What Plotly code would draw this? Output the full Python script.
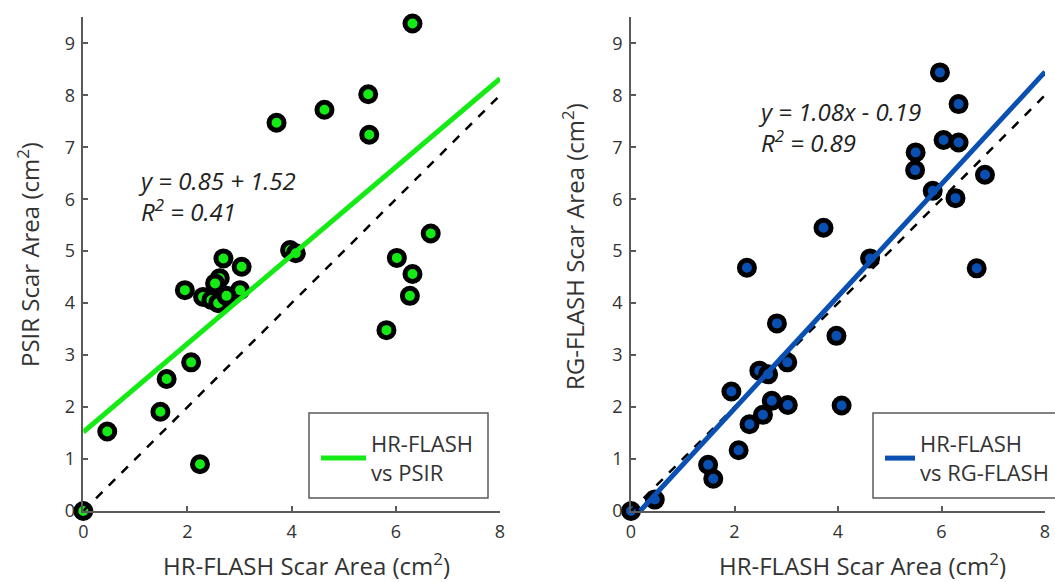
import plotly.graph_objects as go

# ---- data ----
psir_hr = [6.32, 5.47, 5.49, 4.63, 3.71, 6.67, 6.02, 6.32, 6.27, 5.82, 3.97, 4.08,
           2.69, 3.04, 1.95, 3.01, 2.62, 2.53, 2.30, 2.46, 2.66, 2.59, 2.75,
           2.07, 1.60, 1.48, 0.46, 2.24, 0.0]
psir_val = [9.38, 8.02, 7.24, 7.72, 7.47, 5.34, 4.87, 4.56, 4.14, 3.48, 5.02, 4.96,
            4.86, 4.70, 4.25, 4.25, 4.48, 4.38, 4.12, 4.06, 4.06, 4.00, 4.14,
            2.86, 2.54, 1.91, 1.53, 0.90, 0.0]

rg_hr = [5.97, 6.33, 6.04, 6.33, 5.50, 5.49, 5.83, 6.27, 6.84, 3.72, 4.62, 2.24, 6.68,
         2.82, 3.97, 3.02, 2.48, 2.65, 1.94, 2.72, 3.03, 4.07, 2.55, 2.29, 2.08,
         1.49, 1.59, 0.46, 0.0]
rg_val = [8.44, 7.83, 7.14, 7.09, 6.90, 6.56, 6.16, 6.02, 6.47, 5.45, 4.86, 4.68, 4.67,
          3.61, 3.37, 2.86, 2.70, 2.63, 2.30, 2.12, 2.04, 2.03, 1.85, 1.67, 1.17,
          0.89, 0.62, 0.22, 0.0]

psir_fit = {"slope": 0.85, "intercept": 1.52}
rg_fit = {"slope": 1.08, "intercept": -0.19}

x_ticks = [0, 2, 4, 6, 8]
y_ticks = [0, 1, 2, 3, 4, 5, 6, 7, 8, 9]
x_range = [0, 8]
y_range = [0, 9.5]

x_title = "HR-FLASH Scar Area (cm<sup>2</sup>)"
y_title_left = "PSIR Scar Area (cm<sup>2</sup>)"
y_title_right = "RG-FLASH Scar Area (cm<sup>2</sup>)"

GREEN = "#14ea14"
BLUE = "#0a50b2"
AXC = "#5a5a5a"
TXT = "#333333"
FONT = "Open Sans"

fig = go.Figure()


def fit_line(fit, x0, x1):
    xs = [x0, x1]
    return xs, [fit["slope"] * v + fit["intercept"] for v in xs]


# ---- left panel ----
fig.add_trace(go.Scatter(x=psir_hr, y=psir_val, mode="markers", xaxis="x", yaxis="y",
                         marker=dict(size=15, color=GREEN, line=dict(color="black", width=5)),
                         cliponaxis=False, showlegend=False, hoverinfo="x+y"))
fig.add_trace(go.Scatter(x=x_range, y=x_range, mode="lines", xaxis="x", yaxis="y",
                         line=dict(color="black", width=2.5, dash="dash"), showlegend=False))
lx, ly = fit_line(psir_fit, x_range[0], x_range[1])
fig.add_trace(go.Scatter(x=lx, y=ly, mode="lines", xaxis="x", yaxis="y",
                         line=dict(color=GREEN, width=5), name="HR-FLASH<br>vs PSIR",
                         legend="legend"))

# ---- right panel ----
fig.add_trace(go.Scatter(x=rg_hr, y=rg_val, mode="markers", xaxis="x2", yaxis="y2",
                         marker=dict(size=15, color=BLUE, line=dict(color="black", width=5)),
                         cliponaxis=False, showlegend=False, hoverinfo="x+y"))
fig.add_trace(go.Scatter(x=x_range, y=x_range, mode="lines", xaxis="x2", yaxis="y2",
                         line=dict(color="black", width=2.5, dash="dash"), showlegend=False))
x0_rg = -rg_fit["intercept"] / rg_fit["slope"]
rx, ry = fit_line(rg_fit, x0_rg, x_range[1])
fig.add_trace(go.Scatter(x=rx, y=ry, mode="lines", xaxis="x2", yaxis="y2",
                         line=dict(color=BLUE, width=5), name="HR-FLASH<br>vs RG-FLASH",
                         legend="legend2"))

W, H = 1055, 582
ydom = [(H - 511) / H, (H - 17.3) / H]

common_x = dict(range=x_range, tickvals=x_ticks, ticks="inside", ticklen=5, tickwidth=1.5,
                tickcolor=AXC, showline=True, linecolor=AXC, linewidth=1.5, showgrid=False,
                zeroline=False, automargin=False, ticklabelstandoff=4,
                tickfont=dict(family=FONT, size=18, color=TXT))
common_y = dict(range=y_range, tickvals=y_ticks, ticks="inside", ticklen=5, tickwidth=1.5,
                tickcolor=AXC, showline=True, linecolor=AXC, linewidth=1.5, showgrid=False,
                zeroline=False, automargin=False, ticklabelstandoff=3,
                tickfont=dict(family=FONT, size=18, color=TXT))

legend_common = dict(xanchor="left", yanchor="top", borderwidth=0, bgcolor="rgba(0,0,0,0)",
                     font=dict(family=FONT, size=22, color=TXT))

title_font = dict(family=FONT, size=24, color=TXT)
eq_font = dict(family=FONT, size=24, color="#222222")

box_top, box_bot = 413, 498
fig.update_layout(
    width=W, height=H, margin=dict(l=0, r=0, t=0, b=0, autoexpand=False),
    paper_bgcolor="white", plot_bgcolor="white",
    xaxis=dict(domain=[83.3 / W, 500 / W], anchor="y", **common_x),
    yaxis=dict(domain=ydom, anchor="x", **common_y),
    xaxis2=dict(domain=[631 / W, 1045 / W], anchor="y2", **common_x),
    yaxis2=dict(domain=ydom, anchor="x2", **common_y),
    legend=dict(x=316 / W, y=(H - 423) / H, itemwidth=45, **legend_common),
    legend2=dict(x=880 / W, y=(H - 423) / H, itemwidth=30, **legend_common),
    shapes=[
        dict(type="rect", xref="paper", yref="paper", x0=309 / W, x1=488 / W,
             y0=(H - box_bot) / H, y1=(H - box_top) / H,
             line=dict(color=AXC, width=1.5), fillcolor="white", layer="below"),
        dict(type="rect", xref="paper", yref="paper", x0=873 / W, x1=1.02,
             y0=(H - box_bot) / H, y1=(H - box_top) / H,
             line=dict(color=AXC, width=1.5), fillcolor="white", layer="below"),
    ],
    annotations=[
        # axis titles
        dict(text=x_title, xref="paper", yref="paper", x=306 / W, y=(H - 564) / H,
             xanchor="center", yanchor="middle", showarrow=False, font=title_font),
        dict(text=x_title, xref="paper", yref="paper", x=862 / W, y=(H - 564) / H,
             xanchor="center", yanchor="middle", showarrow=False, font=title_font),
        dict(text=y_title_left, xref="paper", yref="paper", x=28 / W, y=(H - 255) / H,
             xanchor="center", yanchor="middle", showarrow=False, textangle=-90,
             font=title_font),
        dict(text=y_title_right, xref="paper", yref="paper", x=573 / W, y=(H - 246) / H,
             xanchor="center", yanchor="middle", showarrow=False, textangle=-90,
             font=title_font),
        # fit equations
        dict(text="<i>y = 0.85 + 1.52<br>R<sup>2</sup> = 0.41</i>", xref="x", yref="y",
             x=1.02, y=6.07, xanchor="left", yanchor="middle", showarrow=False, align="left",
             font=eq_font),
        dict(text="<i>y = 1.08x - 0.19<br>R<sup>2</sup> = 0.89</i>", xref="x2", yref="y2",
             x=2.41, y=7.39, xanchor="left", yanchor="middle", showarrow=False, align="left",
             font=eq_font),
    ],
)

fig.write_html("out.html")
